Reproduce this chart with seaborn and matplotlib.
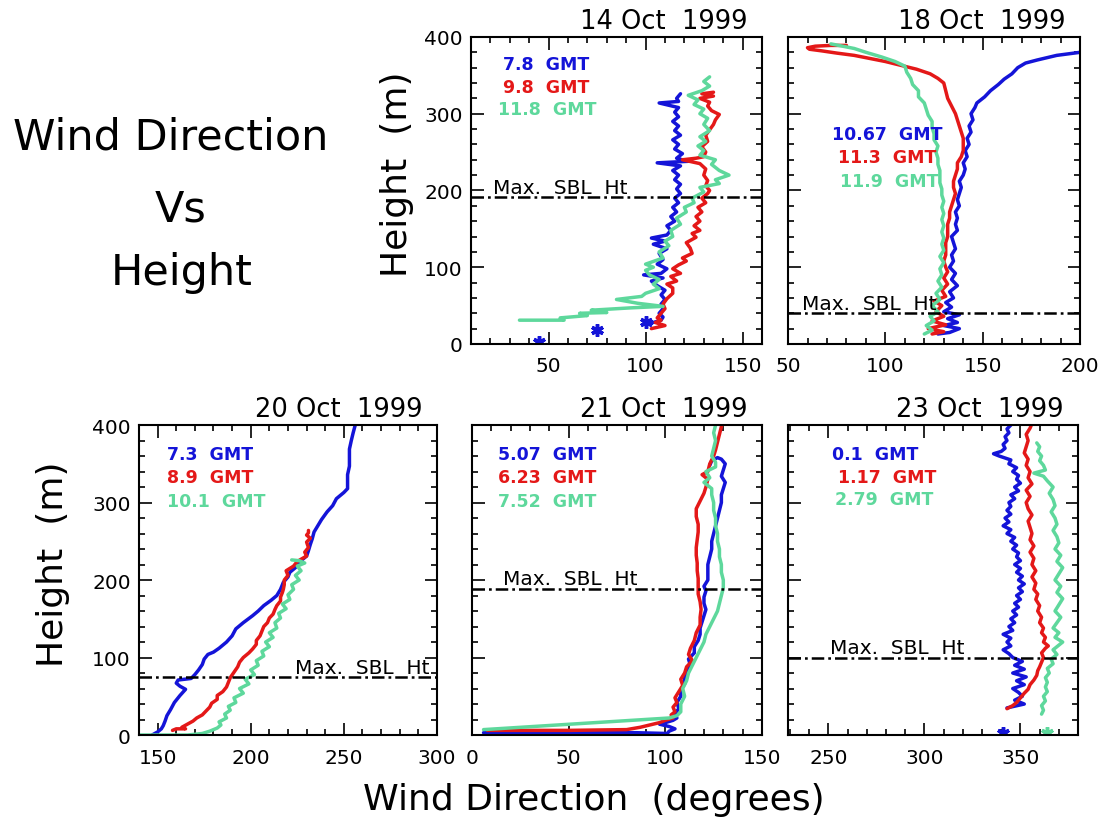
import matplotlib
matplotlib.use("Agg")
import matplotlib.pyplot as plt
import seaborn as sns
from matplotlib.ticker import MultipleLocator

# ---- data: wind direction (deg) vs height (m) ----
# 14 Oct 1999
oct14_blue_dir = [100, 104, 108, 109, 107, 109, 108, 110, 108, 110, 106, 103, 109, 99, 108, 111, 106, 109, 107, 111,
                  104, 110, 103, 111, 113, 111, 115, 113, 116, 114, 117, 115, 118, 116, 118, 115, 117, 114, 118, 106,
                  122, 116, 119, 115, 117, 114, 118, 115, 117, 114, 117, 115, 117, 107, 117, 116, 118]
oct14_blue_hgt = [30, 28, 31, 35, 40, 46, 52, 58, 64, 70, 76, 82, 86, 90, 92, 98, 104, 110, 118, 124,
                  130, 134, 138, 142, 148, 154, 160, 166, 172, 178, 184, 190, 196, 202, 208, 214, 220, 226, 232, 236,
                  238, 242, 248, 254, 260, 266, 272, 278, 284, 290, 296, 302, 308, 314, 316, 320, 326]
oct14_blue_pts_dir = [45, 75, 100]
oct14_blue_pts_hgt = [3, 18, 29]
oct14_red_dir = [103, 110, 105, 108, 106, 108, 110, 109, 111, 114, 114, 111, 116, 113, 118, 114, 117, 121, 119, 124,
                 123, 121, 126, 124, 128, 125, 128, 126, 129, 127, 131, 129, 132, 133, 131, 132, 130, 131, 128, 119,
                 126, 130, 131, 129, 132, 131, 133, 135, 136, 138, 134, 132, 133, 128, 135, 129, 135]
oct14_red_hgt = [20, 24, 28, 31, 34, 40, 46, 52, 59, 66, 73, 78, 82, 88, 92, 98, 103, 108, 112, 118,
                 125, 132, 139, 144, 148, 154, 160, 166, 172, 178, 184, 190, 196, 200, 206, 213, 220, 228, 235, 240,
                 242, 244, 250, 257, 264, 272, 279, 286, 292, 299, 304, 310, 315, 320, 323, 326, 328]
oct14_green_dir = [35, 58, 56, 70, 66, 80, 72, 92, 109, 96, 85, 98, 100, 107, 104, 107, 102, 100, 104, 100,
                   109, 107, 112, 110, 114, 113, 118, 116, 121, 120, 125, 124, 130, 128, 138, 136, 143, 138, 134, 136,
                   128, 130, 127, 131, 128, 133, 130, 132, 128, 130, 125, 127, 122, 129, 133, 130, 133]
oct14_green_hgt = [31, 31, 34, 37, 40, 41, 44, 47, 49, 53, 58, 62, 66, 72, 78, 84, 90, 96, 100, 104,
                   112, 120, 128, 134, 140, 148, 156, 164, 172, 178, 184, 190, 198, 204, 209, 214, 220, 226, 234, 240,
                   246, 252, 258, 264, 270, 278, 286, 294, 300, 306, 312, 318, 324, 330, 336, 342, 348]

# 18 Oct 1999
oct18_blue_dir = [127, 133, 138, 130, 137, 132, 138, 130, 134, 131, 135, 133, 137, 134, 136, 133, 135, 134, 136, 135,
                  134, 137, 136, 137, 136, 138, 137, 138, 139, 138, 140, 141, 140, 142, 141, 143, 142, 144, 143, 145,
                  144, 146, 147, 151, 154, 158, 161, 165, 168, 172, 178, 183, 188, 194, 200]
oct18_blue_hgt = [13, 15, 20, 24, 28, 33, 38, 42, 48, 54, 60, 68, 76, 84, 92, 100, 108, 116, 124, 132,
                  140, 148, 156, 164, 172, 180, 188, 196, 204, 212, 220, 228, 236, 244, 252, 260, 268, 276, 284, 292,
                  300, 308, 314, 322, 330, 338, 345, 352, 360, 366, 370, 373, 376, 378, 380]
oct18_red_dir = [124, 130, 122, 131, 124, 130, 126, 129, 125, 131, 129, 132, 130, 132, 131, 130, 131, 131, 131, 132,
                 132, 132, 133, 133, 134, 135, 136, 135, 135, 136, 137, 137, 139, 140, 140, 140, 139, 138, 137, 136,
                 134, 132, 131, 130, 127, 123, 116, 108, 100, 92, 84, 75, 67, 61, 60, 64, 72, 80]
oct18_red_hgt = [13, 16, 20, 25, 30, 36, 42, 50, 56, 62, 70, 78, 86, 94, 100, 108, 116, 124, 132, 140,
                 148, 156, 164, 172, 180, 188, 196, 204, 212, 220, 228, 236, 244, 252, 260, 268, 276, 284, 292, 300,
                 310, 320, 330, 340, 346, 352, 358, 363, 368, 372, 376, 379, 382, 384, 386, 388, 389, 389]
oct18_green_dir = [120, 124, 121, 125, 123, 127, 124, 128, 126, 129, 127, 129, 128, 130, 128, 130, 129, 130, 129, 130,
                   129, 130, 129, 130, 129, 129, 128, 128, 128, 127, 127, 126, 127, 125, 125, 124, 124, 122, 121, 120,
                   117, 117, 114, 113, 111, 110, 105, 98, 90, 84, 78, 72]
oct18_green_hgt = [13, 18, 24, 30, 36, 42, 50, 58, 66, 74, 82, 90, 98, 106, 114, 122, 130, 138, 146, 154,
                   162, 170, 178, 186, 194, 202, 210, 218, 226, 234, 242, 250, 258, 266, 274, 282, 290, 298, 306, 314,
                   322, 330, 338, 346, 354, 362, 368, 374, 380, 385, 388, 391]

# 20 Oct 1999
oct20_blue_dir = [147, 150, 152, 153, 154, 155, 157, 159, 162, 165, 162, 160, 161, 168, 170, 172, 174, 175, 177, 180,
                  183, 187, 190, 192, 196, 201, 204, 207, 211, 214, 216, 217.5, 220, 221, 224, 226, 230, 231, 232, 233,
                  234, 236, 238, 241, 244, 246, 250, 252, 252, 252, 253, 253, 253, 254, 255, 256, 257]
oct20_blue_hgt = [0, 4, 8, 12, 18, 25, 33, 42, 51, 59, 63, 67, 71, 73, 78, 84, 91, 98, 104, 107,
                  112, 120, 128, 137, 145, 154, 160, 167, 174, 180, 188, 197, 204, 210, 216, 223, 231, 238, 246, 253,
                  262, 270, 278, 288, 296, 305, 313, 318, 326, 336, 347, 358, 369, 380, 390, 399, 405]
oct20_red_dir = [158, 160, 165, 163, 166, 169, 171, 174, 176, 178, 179, 182, 182, 185, 187, 188, 189, 191, 193, 194,
                 196, 199, 201, 203, 203, 205, 206, 207, 209, 210, 212, 213, 214, 216, 216, 217, 217.5, 218, 218, 220,
                 219, 223, 225, 230, 229, 231, 230, 232, 230, 231, 231]
oct20_red_hgt = [6, 8, 8, 10, 14, 18, 22, 26, 31, 36, 41, 46, 51, 56, 62, 68, 74, 81, 88, 94,
                 100, 106, 111, 117, 122, 128, 134, 140, 145, 151, 156, 162, 167, 173, 178, 184, 188, 194, 200, 206,
                 212, 218, 224, 231, 236, 242, 249, 254, 258, 261, 264]
oct20_green_dir = [140, 166, 174, 178, 182, 184, 183, 187, 186, 189, 188, 192, 191, 196, 194, 199, 197, 202, 200, 204,
                   203, 207, 206, 210, 208, 212, 210, 214, 213, 216, 215, 219, 217, 221, 220, 223, 222, 226, 224, 227,
                   225, 229, 226, 222]
oct20_green_hgt = [0, 0, 2, 5, 9, 13, 17, 22, 27, 32, 37, 42, 48, 54, 60, 66, 72, 78, 84, 90,
                   96, 102, 108, 114, 120, 126, 132, 138, 145, 151, 157, 163, 169, 175, 181, 188, 194, 200, 206, 212,
                   218, 222, 225, 226]

# 21 Oct 1999
oct21_blue_dir = [6, 60, 85, 101, 102, 105, 102, 97, 100, 104, 106, 105, 107, 106, 108, 108, 110, 110, 111, 113,
                  112, 115, 115, 117, 118, 118, 119, 120, 121, 120, 120, 121, 120, 122, 122, 122, 123, 124, 124, 125,
                  126, 127, 128, 129, 129, 130, 131, 129, 130, 131, 129, 127, 124, 123]
oct21_blue_hgt = [3, 3, 3, 2, 5, 8, 11, 14, 16, 19, 22, 28, 34, 42, 50, 58, 66, 74, 82, 90,
                  98, 106, 114, 122, 130, 138, 146, 154, 162, 170, 178, 186, 192, 200, 210, 220, 230, 240, 250, 260,
                  270, 280, 290, 300, 310, 318, 326, 334, 342, 350, 356, 358, 354, 348]
oct21_red_dir = [8, 50, 80, 87, 92, 97, 100, 104, 103, 105, 104, 106, 105, 107, 109, 108, 110, 111, 114, 112,
                 113, 115, 116, 118, 118, 118.5, 118, 117, 117, 117, 116.5, 116.5, 116, 116, 116.5, 117, 117, 116, 116, 118,
                 120, 121, 122, 119, 122, 123, 125, 126, 127, 128, 129, 130]
oct21_red_hgt = [6, 6, 7, 10, 13, 16, 19, 22, 26, 30, 36, 42, 48, 56, 64, 72, 80, 88, 96, 104,
                 112, 122, 132, 142, 152, 162, 172, 182, 192, 202, 212, 222, 232, 242, 252, 262, 272, 282, 292, 302,
                 312, 320, 330, 336, 340, 350, 360, 368, 378, 388, 398, 404]
oct21_green_dir = [6, 102, 106, 108, 108, 110, 109, 111, 112, 114, 116, 118, 120, 121, 123, 125, 127, 128, 129, 130,
                   130, 129, 129, 128, 128, 127, 127, 126, 126, 125, 125, 124, 124, 120, 123, 121, 126, 126, 124, 125,
                   126, 125, 126, 126]
oct21_green_hgt = [7, 22, 25, 30, 40, 50, 60, 70, 80, 90, 100, 110, 120, 130, 140, 150, 160, 170, 180, 190,
                   200, 210, 220, 230, 240, 250, 260, 270, 280, 290, 300, 310, 318, 326, 332, 340, 346, 352, 360, 370,
                   380, 390, 400, 406]

# 23 Oct 1999
oct23_blue_dir = [343, 352, 347, 351, 349, 346, 352, 348, 353, 346, 352, 347, 351,
                  346, 344, 341, 345, 343, 345, 341, 346, 344, 347, 345, 348, 346,
                  349, 347, 350, 348, 351, 349, 352, 349, 351, 348, 350, 347, 350,
                  348, 349, 346, 348, 345, 347, 343, 345, 341, 344, 342, 345, 343,
                  345, 344, 347, 345, 349, 347, 350, 348, 349, 346, 348, 344, 345,
                  339, 336, 340, 342, 341, 343, 342, 344, 343, 345]
oct23_blue_hgt = [35, 40, 45, 50, 55, 60, 65, 70, 75, 80, 85, 90, 95,
                  100, 105, 110, 115, 120, 125, 130, 135, 140, 145, 150, 155, 160,
                  165, 170, 175, 180, 185, 190, 195, 200, 205, 210, 215, 220, 225,
                  230, 235, 240, 245, 250, 255, 260, 265, 270, 275, 280, 285, 290,
                  295, 300, 305, 310, 315, 320, 325, 330, 335, 340, 345, 350, 355,
                  360, 363, 366, 370, 375, 380, 385, 390, 395, 400]
oct23_blue_pts_dir = [341]
oct23_blue_pts_hgt = [3]
oct23_red_dir = [343, 346, 348, 350, 352, 354, 355, 357, 358.5, 359, 360, 361, 362, 361, 363, 364.5, 362, 363, 361, 362,
                 360, 361, 359, 360, 358, 359, 357, 358, 356, 358, 356, 357, 355, 357, 355, 356, 355, 354, 356, 354,
                 353, 355, 353, 356, 354, 355, 353, 354, 352, 353, 354, 353, 355, 356]
oct23_red_hgt = [34, 38, 42, 48, 54, 59, 65, 71, 77, 83, 88, 94, 100, 106, 112, 115, 120, 126, 132, 138,
                 145, 152, 160, 167, 175, 182, 188, 196, 204, 212, 220, 228, 236, 244, 252, 260, 268, 276, 284, 292,
                 300, 308, 316, 324, 332, 340, 348, 356, 364, 372, 380, 388, 396, 402]
oct23_green_dir = [361, 362, 361, 363, 362, 364, 363, 364, 363, 365, 364, 367, 366, 369, 367, 370, 372, 368, 370, 367,
                   369, 371, 368, 370, 372, 369, 371, 368, 370, 372, 369, 371, 368, 370, 369, 367, 369, 368, 366, 368,
                   367, 365, 367, 364, 362, 357, 363, 362, 360, 361, 359, 360, 358.5]
oct23_green_hgt = [27, 32, 38, 44, 50, 56, 62, 68, 74, 80, 86, 92, 98, 104, 110, 116, 120, 126, 132, 138,
                   145, 152, 160, 168, 176, 184, 192, 200, 208, 216, 224, 232, 240, 248, 256, 264, 272, 280, 288, 296,
                   304, 312, 320, 328, 334, 338, 342, 348, 354, 360, 366, 372, 377]
oct23_green_pts_dir = [364]
oct23_green_pts_hgt = [3]

dates = ["14 Oct  1999", "18 Oct  1999", "20 Oct  1999", "21 Oct  1999", "23 Oct  1999"]
times = [["7.8  GMT", "9.8  GMT", "11.8  GMT"],
         ["10.67  GMT", "11.3  GMT", "11.9  GMT"],
         ["7.3  GMT", "8.9  GMT", "10.1  GMT"],
         ["5.07  GMT", "6.23  GMT", "7.52  GMT"],
         ["0.1  GMT", "1.17  GMT", "2.79  GMT"]]
sbl_height = [191, 40, 75, 189, 100]

# ---- styling ----
sns.set_theme(style="ticks")
plt.rcParams['font.family'] = ['DejaVu Sans']
plt.rcParams['text.color'] = 'black'
plt.rcParams['axes.labelcolor'] = 'black'
plt.rcParams['xtick.color'] = 'black'
plt.rcParams['ytick.color'] = 'black'
plt.rcParams['axes.linewidth'] = 1.5

colors = ["#1414d8", "#e41818", "#5ed89c"]

fig = plt.figure(figsize=(11.04, 8.2), dpi=100)

# axes rects in figure fraction (left, bottom, width, height)
rects = [[0.4266, 0.5793, 0.2636, 0.3744],
         [0.7138, 0.5793, 0.2645, 0.3744],
         [0.1259, 0.1024, 0.2699, 0.3780],
         [0.4275, 0.1024, 0.2627, 0.3780],
         [0.7138, 0.1024, 0.2627, 0.3780]]
xlims = [(10, 160), (50, 200), (140, 300), (0, 150), (229, 380)]
label_x = [[0.11, 0.11, 0.093], [0.151, 0.171, 0.178], [0.094, 0.094, 0.094],
           [0.09, 0.09, 0.09], [0.152, 0.172, 0.162]]
label_y = [[0.912, 0.837, 0.765], [0.684, 0.609, 0.531], [0.906, 0.832, 0.755],
           [0.906, 0.832, 0.755], [0.906, 0.832, 0.761]]
sbl_text_x = [0.076, 0.048, 0.523, 0.107, 0.145]

series = [
    [(oct14_blue_dir, oct14_blue_hgt), (oct14_red_dir, oct14_red_hgt), (oct14_green_dir, oct14_green_hgt)],
    [(oct18_blue_dir, oct18_blue_hgt), (oct18_red_dir, oct18_red_hgt), (oct18_green_dir, oct18_green_hgt)],
    [(oct20_blue_dir, oct20_blue_hgt), (oct20_red_dir, oct20_red_hgt), (oct20_green_dir, oct20_green_hgt)],
    [(oct21_blue_dir, oct21_blue_hgt), (oct21_red_dir, oct21_red_hgt), (oct21_green_dir, oct21_green_hgt)],
    [(oct23_blue_dir, oct23_blue_hgt), (oct23_red_dir, oct23_red_hgt), (oct23_green_dir, oct23_green_hgt)],
]

axes = []
for i in range(5):
    ax = fig.add_axes(rects[i])
    axes.append(ax)
    for (d, h), c in zip(series[i], colors):
        sns.lineplot(x=d, y=h, sort=False, estimator=None, color=c, lw=2.5, ax=ax)

    ax.axhline(sbl_height[i], color="black", lw=1.8, ls=(0, (5, 1.6, 1.1, 1.6)))
    ax.annotate("Max.  SBL  Ht", xy=(sbl_text_x[i], sbl_height[i]),
                xycoords=("axes fraction", "data"), xytext=(0, 3), textcoords="offset points",
                ha="left", va="baseline", fontsize=14.5, color="black")

    for j in range(3):
        ax.text(label_x[i][j], label_y[i][j], times[i][j], transform=ax.transAxes,
                color=colors[j], fontsize=12.5, fontweight="bold", ha="left", va="center")

    ax.text(0.95, 1.03, dates[i], transform=ax.transAxes, ha="right", va="baseline", fontsize=18.5)

    ax.set_xlim(*xlims[i])
    ax.set_ylim(0, 400)
    ax.xaxis.set_major_locator(MultipleLocator(50))
    ax.xaxis.set_minor_locator(MultipleLocator(10))
    ax.yaxis.set_major_locator(MultipleLocator(100))
    ax.yaxis.set_minor_locator(MultipleLocator(20))
    ax.tick_params(which="both", direction="in", top=True, right=True, width=1.2, colors="black")
    ax.tick_params(which="major", length=9, labelsize=14.5)
    ax.tick_params(which="minor", length=4.5)
    ax.tick_params(axis="x", pad=9)
    ax.tick_params(axis="y", pad=6)
    if i not in (0, 2):
        ax.tick_params(labelleft=False)
    ax.set_xlabel("")
    ax.set_ylabel("")
    for s in ax.spines.values():
        s.set_color("black")
        s.set_linewidth(1.5)

# isolated lowest-level points drawn as asterisks
axes[0].plot(oct14_blue_pts_dir, oct14_blue_pts_hgt, ls="none", marker=(6, 2, 0), ms=9, mew=2.5, color=colors[0])
axes[4].plot(oct23_blue_pts_dir, oct23_blue_pts_hgt, ls="none", marker=(6, 2, 0), ms=9, mew=2.5, color=colors[0])
axes[4].plot(oct23_green_pts_dir, oct23_green_pts_hgt, ls="none", marker=(6, 2, 0), ms=9, mew=2.5, color=colors[2])
for ax in axes:
    ax.set_ylim(0, 400)

# figure texts
fig.text(171 / 1104, 1 - 150 / 820, "Wind Direction", ha="center", va="baseline", fontsize=31)
fig.text(181 / 1104, 1 - 221 / 820, "Vs", ha="center", va="baseline", fontsize=31)
fig.text(182 / 1104, 1 - 285 / 820, "Height", ha="center", va="baseline", fontsize=31)
fig.text(397 / 1104, 1 - 174 / 820, "Height  (m)", rotation=90, ha="center", va="center", fontsize=26)
fig.text(53 / 1104, 1 - 564 / 820, "Height  (m)", rotation=90, ha="center", va="center", fontsize=26)
fig.text(594 / 1104, 1 - 800 / 820, "Wind Direction  (degrees)", ha="center", va="center", fontsize=26)

fig.savefig("out.png", dpi=100, facecolor="white")
